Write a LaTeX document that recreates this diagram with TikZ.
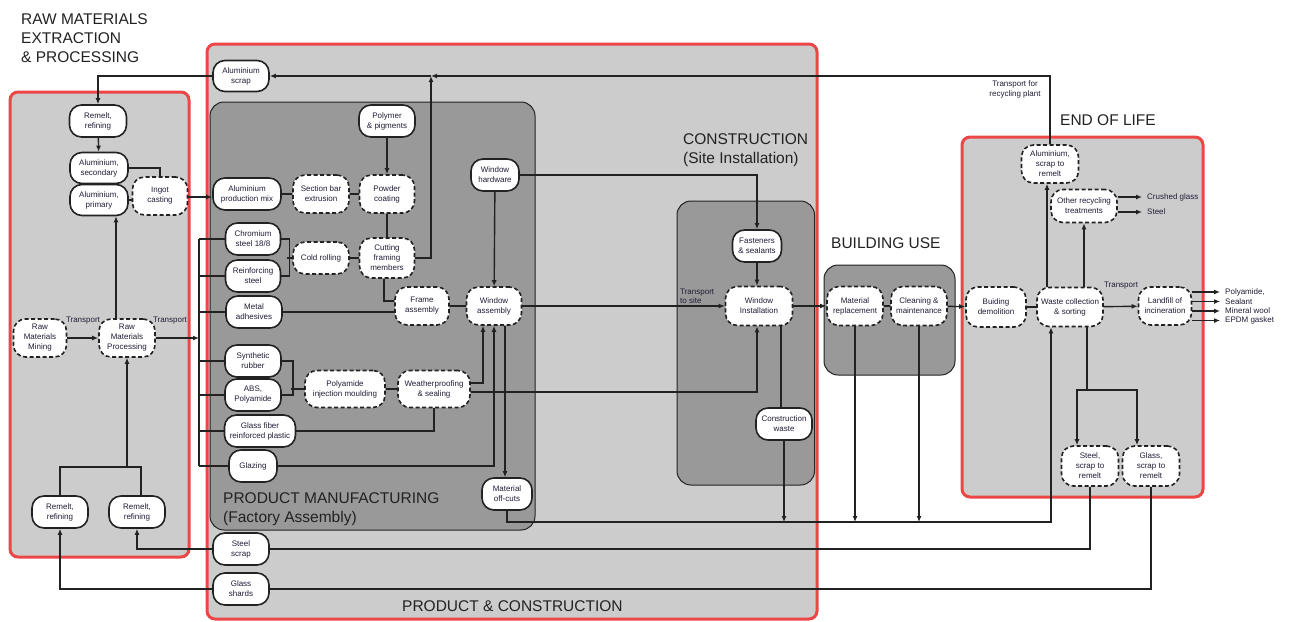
\documentclass[tikz,border=0pt]{standalone}
\usepackage{fontspec}
\setmainfont{Liberation Sans}
\usepackage{tikz}
\usetikzlibrary{arrows.meta,positioning,calc}

\definecolor{regionred}{RGB}{236,70,70}
\definecolor{lightbg}{RGB}{204,204,204}
\definecolor{darkbg}{RGB}{153,153,153}
\definecolor{inkline}{RGB}{34,34,34}
\definecolor{inktext}{RGB}{30,30,55}

\begin{document}
\begin{tikzpicture}[
  x=1pt, y=-1pt,
  sz/.style 2 args={minimum width=#1pt, minimum height=#2pt},
  block/.style={
    draw=inkline,
    line width=1.6pt,
    fill=white,
    rounded corners=12pt,
    align=center,
    inner sep=1pt,
    text=inktext,
    font=\fontsize{8}{10}\selectfont
  },
  dblock/.style={block, dash pattern=on 4pt off 2.5pt},
  region/.style={draw=regionred, line width=3pt, fill=lightbg, rounded corners=8pt},
  stage/.style={draw=inkline, line width=1pt, fill=darkbg, rounded corners=14pt},
  title/.style={font=\fontsize{15.5}{19}\selectfont, text=inkline, inner sep=0pt, align=left, anchor=north west},
  lbl/.style={font=\fontsize{8}{9.5}\selectfont, text=inktext, inner sep=1pt, align=center},
  link/.style={draw=inkline, line width=1.4pt},
  line/.style={link, -{Latex[length=6pt,width=5pt]}},
  bigline/.style={line, line width=2.4pt},
  outline/.style={line, shorten >=4pt}
]
\useasboundingbox (0,0) rectangle (1289,621);

% Regions
\draw[region] (10,92) rectangle (189,557);
\draw[region] (207,44) rectangle (817,619);
\draw[stage] (210,102) rectangle (535,530);
\draw[stage] (677,201) rectangle (814.5,485);
\draw[stage] (824,265) rectangle (955,375);
\draw[region] (962,137) rectangle (1203,497);

% Titles
\node[title] (rawtitle) at (21,13) {RAW MATERIALS\\EXTRACTION\\\& PROCESSING};
\node[title] (constitle) at (683,133) {CONSTRUCTION\\(Site Installation)};
\node[title] (usetitle) at (831,237) {BUILDING USE};
\node[title] (eoltitle) at (1060,114) {END OF LIFE};
\node[title] (pmtitle) at (223,492) {PRODUCT MANUFACTURING\\(Factory Assembly)};
\node[title] (pctitle) at (402,600) {PRODUCT \& CONSTRUCTION};

% Raw materials extraction & processing
\node[block,sz={57}{32}] (remeltA) at (98,121) {Remelt,\\refining};
\node[block,sz={58}{31}] (alsec) at (99,168) {Aluminium,\\secondary};
\node[block,sz={58}{31}] (alprim) at (99,200) {Aluminium,\\primary};
\node[dblock,sz={55}{38}] (ingot) at (160,196) {Ingot\\casting};
\node[dblock,sz={53}{38}] (mining) at (40,338) {Raw\\Materials\\Mining};
\node[dblock,sz={56}{38}] (processing) at (127,338) {Raw\\Materials\\Processing};
\node[block,sz={56}{32}] (remeltB) at (60,512) {Remelt,\\refining};
\node[block,sz={56}{32}] (remeltC) at (137,512) {Remelt,\\refining};

\node[lbl] (tport1) at (83,321) {Transport};
\node[lbl] (tport2) at (170,321) {Transport};

% Product & construction
\node[block,sz={56}{31}] (alscrap) at (241,76) {Aluminium\\scrap};
\node[block,sz={56}{32}] (steelscrap) at (241,549) {Steel\\scrap};
\node[block,sz={56}{32}] (glassshards) at (241,589) {Glass\\shards};

% Product manufacturing
\node[block,sz={68}{32}] (prodmix) at (247,194) {Aluminium\\production mix};
\node[dblock,sz={56}{38}] (extrusion) at (321,194) {Section bar\\extrusion};
\node[dblock,sz={55}{38}] (coating) at (387,194) {Powder\\coating};
\node[block,sz={56}{32}] (polymer) at (387,121) {Polymer\\\& pigments};
\node[block,sz={55}{32}] (chromium) at (253,239) {Chromium\\steel 18/8};
\node[block,sz={55}{32}] (reinforcing) at (253,276) {Reinforcing\\steel};
\node[dblock,sz={56}{32}] (coldroll) at (321,258) {Cold rolling};
\node[dblock,sz={55}{40}] (cutting) at (387,258) {Cutting\\framing\\members};
\node[block,sz={56}{32}] (adhesives) at (254,312) {Metal\\adhesives};
\node[dblock,sz={54}{38}] (frame) at (422,306) {Frame\\assembly};
\node[dblock,sz={55}{38}] (winassy) at (494,306) {Window\\assembly};
\node[block,sz={48}{32}] (hardware) at (495,175) {Window\\hardware};
\node[block,sz={56}{32}] (synrubber) at (253,361) {Synthetic\\rubber};
\node[block,sz={56}{32}] (abs) at (253,395) {ABS,\\Polyamide};
\node[dblock,sz={80}{37}] (injection) at (345,389) {Polyamide\\injection moulding};
\node[dblock,sz={72}{37}] (weather) at (434,389) {Weatherproofing\\\& sealing};
\node[block,sz={71}{32}] (glassfiber) at (260,431) {Glass fiber\\reinforced plastic};
\node[block,sz={48}{32}] (glazing) at (253,466) {Glazing};
\node[block,sz={50}{32}] (offcuts) at (507,494) {Material\\off-cuts};

% Construction
\node[block,sz={49}{32}] (fasteners) at (757,246) {Fasteners\\\& sealants};
\node[dblock,sz={67}{39}] (installation) at (759,306) {Window\\Installation};
\node[block,sz={56}{32}] (conswaste) at (784,424) {Construction\\waste};
\node[lbl,anchor=west,align=left] (tsite) at (679,296.5) {Transport\\to site};

% Building use
\node[dblock,sz={56}{39}] (replacement) at (855,306) {Material\\replacement};
\node[dblock,sz={56}{39}] (cleaning) at (919,306) {Cleaning \&\\maintenance};

% End of life
\node[dblock,sz={60}{40}] (demolition) at (996,307) {Buiding\\demolition};
\node[dblock,sz={66}{39}] (collection) at (1070,307) {Waste collection\\\& sorting};
\node[dblock,sz={53}{38}] (landfill) at (1165,306) {Landfill of\\incineration};
\node[dblock,sz={57}{38}] (alremelt) at (1050,164) {Aluminium,\\scrap to\\remelt};
\node[dblock,sz={66}{33}] (otherrec) at (1084,206) {Other recycling\\treatments};
\node[dblock,sz={57}{40}] (steelremelt) at (1090,466) {Steel,\\scrap to\\remelt};
\node[dblock,sz={57}{40}] (glassremelt) at (1151,466) {Glass,\\scrap to\\remelt};

\node[lbl] (tport3) at (1121,286) {Transport};
\node[lbl] (trecycle) at (1015,89.5) {Transport for\\recycling plant};
\node[lbl,anchor=west] (crushed) at (1146,197) {Crushed glass};
\node[lbl,anchor=west] (steelout) at (1146,212) {Steel};
\node[lbl,anchor=west] (polyout) at (1224,292) {Polyamide,};
\node[lbl,anchor=west] (sealout) at (1224,301.5) {Sealant};
\node[lbl,anchor=west] (woolout) at (1224,311) {Mineral wool};
\node[lbl,anchor=west] (epdmout) at (1224,320.5) {EPDM gasket};

% Helper points
\coordinate (bustop) at (199,239);
\coordinate (busbot) at (199,466);
\coordinate (rjoin) at (127,467);
\coordinate (topjoin) at (431,76);
\coordinate (wbase) at (600,522);
\coordinate (sjoin) at (1087,390);

% Raw materials flows
\draw[line] (alscrap.west) -| (remeltA.north);
\draw[line] (remeltA) -- (alsec);
\draw[link] (alsec.east) -| (ingot.north);
\draw[link] (alprim.east) -- (alprim.east -| ingot.west);
\draw[bigline] ([yshift=-1pt]ingot.east) -- ([yshift=-1pt]ingot.east -| prodmix.west);
\draw[line] (mining) -- (processing);
\draw[bigline] (processing.east) -- (processing.east -| bustop);
\draw[line] ([xshift=-11pt]processing.north) -- ([xshift=-11pt]processing.north |- alprim.south);
\draw[link] (remeltB.north) |- (rjoin) -| ([xshift=4pt]remeltC.north);
\draw[line] (rjoin) -- (processing.south);
\draw[line] (steelscrap.west) -| (remeltC.south);
\draw[line] (glassshards.west) -| (remeltB.south);

% Supply bus into manufacturing
\draw[link] (bustop) -- (busbot);
\foreach \n in {chromium,reinforcing,adhesives,synrubber,abs,glassfiber,glazing}
  \draw[link] (\n.west -| bustop) -- (\n.west);

% Product manufacturing flows
\draw[link] (prodmix) -- (extrusion);
\draw[link] (extrusion) -- (coating);
\draw[line] (polymer) -- (coating);
\draw[link] (coating) -- (cutting);
\draw[link] (chromium.east) -- ++(8,0) |- (reinforcing.east);
\draw[link] (coldroll.west) -- ++(-5,0);
\draw[link] (coldroll) -- (cutting);
\draw[line] (cutting.east) -| (topjoin);
\draw[link] ([xshift=-3pt]cutting.south) |- ([yshift=5pt]frame.west);
\draw[link] (adhesives.east) -- (adhesives.east -| frame.west);
\draw[link] (frame) -- (winassy);
\draw[line] (hardware) -- (winassy);
\draw[line] (hardware.east) -| (fasteners.north);
\draw[link] (synrubber.east) -- ++(11,0) |- (abs.east);
\draw[link] (injection.west) -- ++(-13,0);
\draw[link] (injection) -- (weather);
\draw[line] ([yshift=6pt]weather.east) -| ([xshift=-11pt]winassy.south);
\draw[link] (glassfiber.east) -| (weather.south);
\draw[line] (glazing.east) -| (winassy.south);
\draw[line] ([xshift=11pt]winassy.south) -- ([xshift=11pt]winassy.south |- offcuts.north);

% Transport to site and construction
\draw[line] (winassy.east) -- (winassy.east -| installation.west);
\draw[line] ([yshift=-3pt]weather.east) -| ([xshift=-2pt]installation.south);
\draw[line] (fasteners.south) -- (fasteners.south |- installation.north);
\draw[link] ([xshift=22pt]installation.south) -- ([xshift=22pt]installation.south |- conswaste.north);

% Building use
\draw[line] (installation) -- (replacement);
\draw[link] (replacement) -- (cleaning);
\draw[line] (cleaning) -- (demolition);

% Waste streams to end of life
\draw[line] (offcuts.south) |- ([xshift=-19pt]collection.south |- wbase) -- ([xshift=-19pt]collection.south);
\draw[line] (conswaste.south) -- (conswaste.south |- wbase);
\draw[line] (replacement.south) -- (replacement.south |- wbase);
\draw[line] (cleaning.south) -- (cleaning.south |- wbase);

% End of life flows
\draw[link] (demolition) -- (collection);
\draw[line] (collection) -- (landfill);
\draw[line] ([xshift=-23pt]collection.north) -- ([xshift=-23pt]collection.north |- alremelt.south);
\draw[line] ([xshift=14pt]collection.north) -- ([xshift=14pt]collection.north |- otherrec.south);
\draw[link] ([xshift=17pt]collection.south) -- (sjoin);
\draw[line] (sjoin) -| ([xshift=-13pt]steelremelt.north);
\draw[line] (sjoin) -| ([xshift=-14pt]glassremelt.north);
\foreach \o in {crushed,steelout}
  \draw[outline] (otherrec.east |- \o) -- (\o.west);
\foreach \o in {polyout,sealout,woolout,epdmout}
  \draw[outline] (landfill.east |- \o) -- (\o.west);

% Recycling loops back to raw materials
\draw[line] (alremelt.north) |- (topjoin);
\draw[line] (topjoin) -- (alscrap.east);
\draw[link] (steelremelt.south) |- (steelscrap.east);
\draw[link] (glassremelt.south) |- (glassshards.east);

\end{tikzpicture}
\end{document}
